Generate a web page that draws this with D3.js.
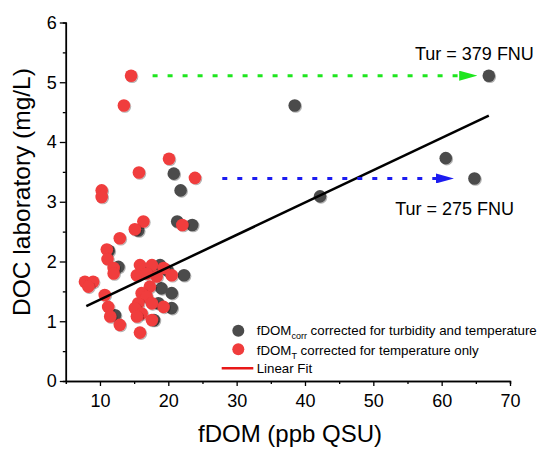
<!DOCTYPE html>
<html>
<head>
<meta charset="utf-8">
<script src="https://cdn.jsdelivr.net/npm/d3@7/dist/d3.min.js"></script>
<style>
    body { margin: 0; background: #fff; }
    svg { display: block; font-family: Arial, "Liberation Sans", sans-serif; }
</style>
</head>
<body>
<div id="chart"></div>
<script>
// fDOM corrected for turbidity and temperature [fDOM, DOC]
var corrPoints = [
    [66.9, 5.11], [38.5, 4.61], [60.6, 3.73], [64.8, 3.39], [42.2, 3.09],
    [20.8, 3.47], [21.8, 3.19], [21.3, 2.67], [23.5, 2.61], [15.6, 2.52],
    [11.3, 2.18], [12.7, 1.91], [18.8, 1.94], [19.9, 1.85], [22.3, 1.77],
    [19.0, 1.55], [20.5, 1.47], [18.55, 1.30], [20.5, 1.22], [17.9, 1.02],
    [12.2, 1.10], [17.2, 1.85]
];

// fDOM corrected for temperature only [fDOM, DOC]
var tempPoints = [
    [14.55, 5.11], [13.5, 4.61], [20.1, 3.72], [15.7, 3.49], [23.9, 3.40],
    [10.25, 3.19], [10.25, 3.08], [16.35, 2.67], [22.05, 2.61], [15.1, 2.54],
    [12.9, 2.39], [11.0, 2.20], [11.1, 2.04], [12.0, 1.89], [12.0, 1.80],
    [7.8, 1.66], [9.0, 1.66], [8.3, 1.58], [10.7, 1.44], [11.2, 1.24],
    [11.5, 1.08], [12.9, 0.94], [15.85, 0.81], [15.85, 1.94], [17.6, 1.94],
    [19.3, 1.89], [15.4, 1.77], [16.85, 1.80], [18.3, 1.75], [20.5, 1.77],
    [17.3, 1.58], [16.1, 1.47], [16.85, 1.41], [15.6, 1.30], [17.6, 1.30],
    [19.3, 1.24], [15.1, 1.22], [16.1, 1.13], [17.6, 1.02], [15.4, 1.08]
];

// Linear fit: DOC = slope * fDOM + intercept, drawn over fitRange
var fitSlope = 0.0541;
var fitIntercept = 0.822;
var fitRange = [8.0, 66.9];

// Arrows showing the shift caused by turbidity correction
var arrows = [
    {from: [17.7, 5.11], to: [65.2, 5.11], color: "#1ee61e"},
    {from: [27.9, 3.39], to: [61.8, 3.39], color: "#1c1cf0"}
];
var notes = [
    {text: "Tur = 379 FNU", x: 56.1, y: 5.38},
    {text: "Tur = 275 FNU", x: 53.2, y: 2.78}
];

var xTicks = [10, 20, 30, 40, 50, 60, 70];
var xMinor = [15, 25, 35, 45, 55, 65];
var yTicks = [0, 1, 2, 3, 4, 5, 6];
var yMinor = [0.5, 1.5, 2.5, 3.5, 4.5, 5.5];

(function () {
    var width = 541, height = 451;
    var grey = "#4b4b4b", red = "#f03c3c";

    var svg = d3.select("#chart").append("svg")
        .attr("width", width)
        .attr("height", height);

    var x = d3.scaleLinear().domain([5, 70]).range([65.8, 510]);
    var y = d3.scaleLinear().domain([0, 6]).range([381, 22.5]);

    // Axes, major and minor ticks
    var styleAxis = function (g) {
        g.select(".domain").attr("stroke", "#000").attr("stroke-width", 1.5);
        g.selectAll(".tick line").attr("stroke", "#000").attr("stroke-width", 1.3);
        g.selectAll(".tick text").attr("font-size", 18).attr("fill", "#000")
            .attr("font-family", "Arial, 'Liberation Sans', sans-serif");
    };

    svg.append("g")
        .attr("transform", "translate(0," + y(0) + ")")
        .call(d3.axisBottom(x).tickValues(xMinor).tickSize(3).tickFormat(""))
        .call(styleAxis);
    svg.append("g")
        .attr("transform", "translate(0," + y(0) + ")")
        .call(d3.axisBottom(x).tickValues(xTicks).tickSize(5).tickSizeOuter(0).tickPadding(8).tickFormat(d3.format("d")))
        .call(styleAxis);

    svg.append("g")
        .attr("transform", "translate(" + x(5) + ",0)")
        .call(d3.axisLeft(y).tickValues(yMinor).tickSize(3).tickFormat(""))
        .call(styleAxis);
    svg.append("g")
        .attr("transform", "translate(" + x(5) + ",0)")
        .call(d3.axisLeft(y).tickValues(yTicks).tickSize(6).tickSizeOuter(0).tickPadding(3).tickFormat(d3.format("d")))
        .call(styleAxis);

    // Axis titles
    svg.append("text")
        .attr("x", 290).attr("y", 442)
        .attr("text-anchor", "middle")
        .attr("font-size", 24)
        .text("fDOM (ppb QSU)");
    svg.append("text")
        .attr("transform", "translate(30,192) rotate(-90)")
        .attr("text-anchor", "middle")
        .attr("font-size", 24.5)
        .text("DOC laboratory (mg/L)");

    var defs = svg.append("defs");

    // Soft shadow under the scatter points
    defs.append("filter")
        .attr("id", "shade")
        .attr("x", "-30%").attr("y", "-30%")
        .attr("width", "160%").attr("height", "160%")
        .append("feDropShadow")
        .attr("dx", 1).attr("dy", 1)
        .attr("stdDeviation", 0.7)
        .attr("flood-color", "#000")
        .attr("flood-opacity", 0.3);

    // Arrow heads
    arrows.forEach(function (a, i) {
        defs.append("marker")
            .attr("id", "head" + i)
            .attr("viewBox", "0 0 18 10")
            .attr("refX", 18).attr("refY", 5)
            .attr("markerWidth", 18).attr("markerHeight", 10)
            .attr("markerUnits", "userSpaceOnUse")
            .attr("orient", "auto")
            .append("path")
            .attr("d", "M0,0L18,5L0,10Z")
            .attr("fill", a.color);
    });

    // Points: grey first, red on top
    var drawPoints = function (data, fill) {
        svg.append("g").selectAll("circle")
            .data(data)
            .enter().append("circle")
            .attr("cx", function (d) { return x(d[0]); })
            .attr("cy", function (d) { return y(d[1]); })
            .attr("r", 6.3)
            .attr("fill", fill)
            .attr("filter", "url(#shade)");
    };
    drawPoints(corrPoints, grey);
    drawPoints(tempPoints, red);

    // Fit line
    svg.append("line")
        .attr("x1", x(fitRange[0])).attr("y1", y(fitSlope * fitRange[0] + fitIntercept))
        .attr("x2", x(fitRange[1])).attr("y2", y(fitSlope * fitRange[1] + fitIntercept))
        .attr("stroke", "#000")
        .attr("stroke-width", 2.5);

    // Dotted arrows (shaft stops at the head's base)
    arrows.forEach(function (a, i) {
        svg.append("line")
            .attr("x1", x(a.from[0])).attr("y1", y(a.from[1]))
            .attr("x2", x(a.to[0]) - 16).attr("y2", y(a.to[1]))
            .attr("stroke", a.color)
            .attr("stroke-width", 3)
            .attr("stroke-dasharray", "5,10");
        svg.append("line")
            .attr("x1", x(a.to[0]) - 18).attr("y1", y(a.to[1]))
            .attr("x2", x(a.to[0])).attr("y2", y(a.to[1]))
            .attr("stroke", "none")
            .attr("marker-end", "url(#head" + i + ")");
    });

    svg.selectAll(".note")
        .data(notes)
        .enter().append("text")
        .attr("class", "note")
        .attr("x", function (d) { return x(d.x); })
        .attr("y", function (d) { return y(d.y); })
        .attr("font-size", 18)
        .text(function (d) { return d.text; });

    // Legend
    var legend = svg.append("g").attr("font-size", 13.3);
    legend.append("circle").attr("cx", 238.3).attr("cy", 330.7).attr("r", 6).attr("fill", grey);
    var t1 = legend.append("text").attr("x", 256.7).attr("y", 335);
    t1.append("tspan").text("fDOM");
    t1.append("tspan").attr("font-size", 9).attr("dy", 4).text("corr");
    t1.append("tspan").attr("dy", -4).text(" corrected for turbidity and temperature");

    legend.append("circle").attr("cx", 238.3).attr("cy", 349.3).attr("r", 6).attr("fill", red);
    var t2 = legend.append("text").attr("x", 256.7).attr("y", 354.5);
    t2.append("tspan").text("fDOM");
    t2.append("tspan").attr("font-size", 9).attr("dy", 4).text("T");
    t2.append("tspan").attr("dy", -4).text(" corrected for temperature only");

    legend.append("line")
        .attr("x1", 221.7).attr("x2", 253.3)
        .attr("y1", 368.3).attr("y2", 368.3)
        .attr("stroke", "#e81818").attr("stroke-width", 2.5);
    legend.append("text").attr("x", 256.7).attr("y", 373).text("Linear Fit");
}());
</script>
</body>
</html>
